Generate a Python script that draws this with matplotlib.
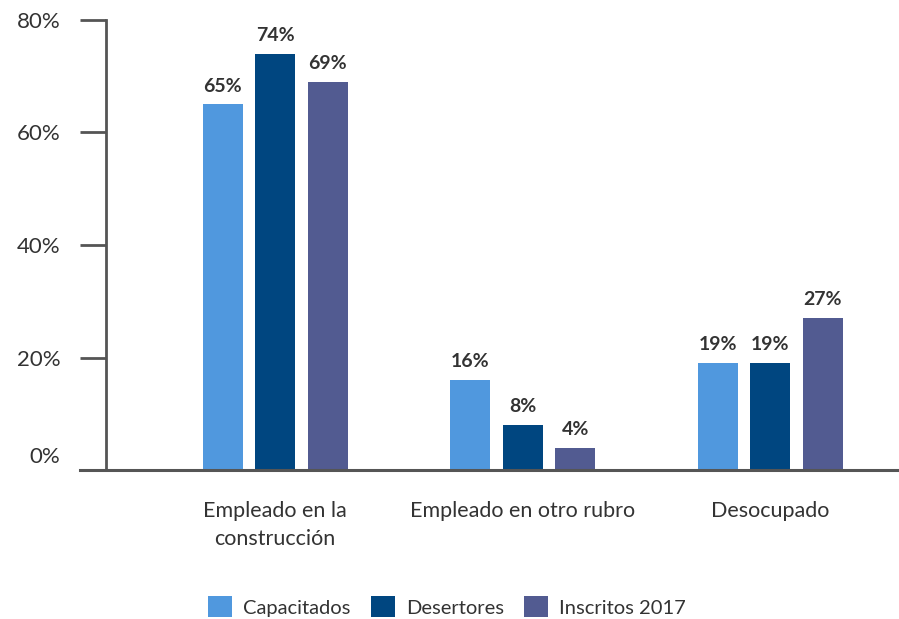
import matplotlib.pyplot as plt
import numpy as np

categorias = ["Empleado en la\nconstrucción", "Empleado en otro rubro", "Desocupado"]
series = ["Capacitados", "Desertores", "Inscritos 2017"]
capacitados = [65, 16, 19]
desertores = [74, 8, 19]
inscritos = [69, 4, 27]
colores = ["#5098de", "#004680", "#525b91"]

plt.rcParams["font.family"] = ["Lato", "DejaVu Sans"]
TXT = "#333333"
EJE = "#555555"

fig = plt.figure(figsize=(8.99, 6.19), dpi=100)
ax = fig.add_axes([0.118, 0.2407, 0.882, 0.727])

x = np.arange(len(categorias))
ancho = 0.162
paso = 0.212
for i, (nombre, vals) in enumerate(zip(series, [capacitados, desertores, inscritos])):
    barras = ax.bar(x + (i - 1) * paso, vals, ancho, color=colores[i], label=nombre)
    for b, v in zip(barras, vals):
        ax.annotate(f"{v}%", (b.get_x() + b.get_width() / 2, v),
                    xytext=(0, 7), textcoords="offset points",
                    ha="center", va="bottom", fontsize=14, fontweight="bold",
                    color=TXT, annotation_clip=False)

ax.set_xlim(-0.683, 2.52)
ax.set_ylim(0, 80)

for s in ["top", "right", "bottom"]:
    ax.spines[s].set_visible(False)
ax.spines["left"].set_color(EJE)
ax.spines["left"].set_linewidth(2)
ax.axhline(0, xmin=-0.033, xmax=1, color=EJE, lw=2.2, clip_on=False, zorder=5)

ax.set_yticks([20, 40, 60, 80])
ax.set_yticklabels(["20%", "40%", "60%", "80%"])
ax.tick_params(axis="y", length=19, width=2, color=EJE, pad=14,
               labelsize=16, labelcolor=TXT)
ax.text(-0.058, 2.3, "0%", transform=ax.get_yaxis_transform(), ha="right",
        va="center", fontsize=16, color=TXT)

ax.set_xticks(x)
ax.set_xticklabels(categorias, fontsize=15.5, color=TXT, linespacing=1.55)
ax.tick_params(axis="x", length=0, pad=22)

fig.legend(loc="lower center", bbox_to_anchor=(0.497, -0.026), ncol=3,
           frameon=False, fontsize=14.5, labelcolor=TXT, handlelength=1.19,
           handleheight=1.19, handletextpad=0.55, columnspacing=1.0)

fig.savefig("out.png", dpi=100)
